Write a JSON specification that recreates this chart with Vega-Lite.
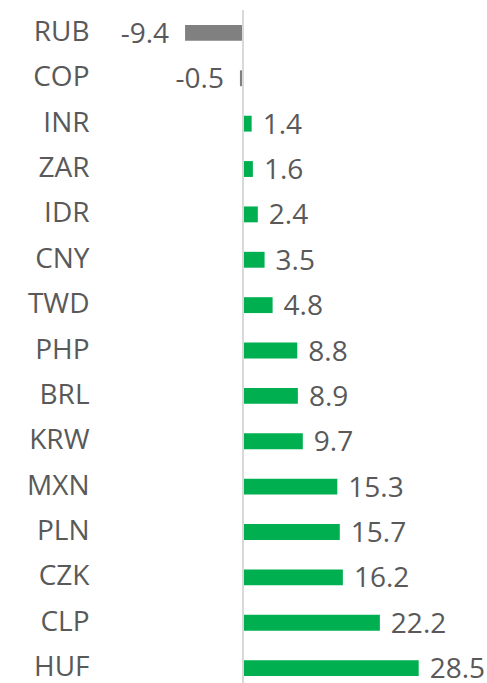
{
  "$schema": "https://vega.github.io/schema/vega-lite/v6.json",
  "autosize": "none",
  "padding": {"left": 100, "top": 10, "right": 0, "bottom": 0},
  "width": 387,
  "height": 681,
  "background": "white",
  "config": {"view": {"stroke": null}, "font": "Open Sans"},
  "data": {"values": [
    {"ccy": "RUB", "v": -9.4},
    {"ccy": "COP", "v": -0.5},
    {"ccy": "INR", "v": 1.4},
    {"ccy": "ZAR", "v": 1.6},
    {"ccy": "IDR", "v": 2.4},
    {"ccy": "CNY", "v": 3.5},
    {"ccy": "TWD", "v": 4.8},
    {"ccy": "PHP", "v": 8.8},
    {"ccy": "BRL", "v": 8.9},
    {"ccy": "KRW", "v": 9.7},
    {"ccy": "MXN", "v": 15.3},
    {"ccy": "PLN", "v": 15.7},
    {"ccy": "CZK", "v": 16.2},
    {"ccy": "CLP", "v": 22.2},
    {"ccy": "HUF", "v": 28.5}
  ]},
  "encoding": {
    "y": {
      "field": "ccy", "type": "nominal", "sort": null,
      "scale": {"paddingInner": 0.65, "paddingOuter": 0.33},
      "axis": {"title": null, "domain": false, "ticks": false, "labelPadding": 11, "labelFontSize": 28, "labelColor": "#595959", "labelFont": "Open Sans"}
    }
  },
  "layer": [
    {
      "mark": {"type": "bar"},
      "encoding": {
        "x": {"field": "v", "type": "quantitative", "scale": {"domain": [-23.2, 39.58], "nice": false, "zero": false}, "axis": null},
        "color": {
          "condition": {"test": "datum.v < 0", "value": "#808080"},
          "value": "#00b050"
        }
      }
    },
    {
      "mark": {"type": "rule", "color": "#d9d9d9", "strokeWidth": 1.5},
      "encoding": {"x": {"datum": 0, "type": "quantitative"}, "y": {"value": 0}, "y2": {"value": 681}}
    },
    {
      "transform": [{"filter": "datum.v >= 0"}],
      "mark": {"type": "text", "align": "left", "baseline": "middle", "dx": 11, "dy": 2, "fontSize": 28, "color": "#595959", "font": "Open Sans"},
      "encoding": {"x": {"field": "v", "type": "quantitative"}, "text": {"field": "v", "type": "nominal"}}
    },
    {
      "transform": [{"filter": "datum.v < 0"}],
      "mark": {"type": "text", "align": "right", "baseline": "middle", "dx": -16, "dy": 2, "fontSize": 28, "color": "#595959", "font": "Open Sans"},
      "encoding": {"x": {"field": "v", "type": "quantitative"}, "text": {"field": "v", "type": "nominal"}}
    }
  ]
}
